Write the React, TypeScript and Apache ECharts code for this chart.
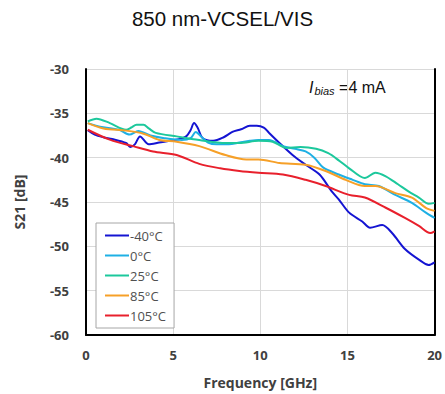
import React, { useEffect, useRef } from "react";
import * as echarts from "echarts";

const xTicks = [0, 5, 10, 15, 20];
const yTicks = [-30, -35, -40, -45, -50, -55, -60];

const seriesNames = ["-40°C", "0°C", "25°C", "85°C", "105°C"];
const seriesColors = ["#1414d2", "#1eb0e4", "#1cc89c", "#f6a028", "#e8202c"];

const xM40 = [0.1, 0.5, 1.0, 1.5, 2.3, 2.55, 2.8, 3.1, 3.6, 4.2, 4.8, 5.4, 5.75, 6.0, 6.2, 6.4, 6.7, 7.3, 7.9, 8.4, 8.9, 9.4, 9.8, 10.2, 10.5, 11.1, 11.85, 12.6, 13.4, 14.1, 14.5, 15.1, 15.85, 16.3, 17.0, 17.56, 18.3, 19.1, 19.66, 20];
const yM40 = [-36.9, -37.4, -37.7, -37.9, -38.35, -38.8, -38.5, -37.6, -38.5, -38.3, -38.1, -37.9, -37.6, -36.9, -36.1, -36.6, -37.8, -38.1, -37.7, -37.1, -36.8, -36.4, -36.4, -36.6, -37.2, -38.35, -39.7, -40.8, -41.9, -43.8, -44.7, -46.2, -47.2, -47.9, -47.6, -48.5, -50.3, -51.5, -52.1, -51.8];

const x0 = [0.1, 0.8, 1.9, 2.5, 3.0, 3.7, 4.5, 5.5, 6.0, 6.3, 6.6, 7.0, 7.5, 8.2, 8.8, 9.4, 9.9, 10.5, 11.3, 12.0, 12.6, 13.1, 13.6, 14.5, 15.3, 16.0, 16.8, 17.75, 18.7, 19.5, 20];
const y0 = [-36.1, -36.5, -36.85, -37.4, -37.0, -37.5, -37.8, -38.0, -37.8, -37.1, -37.6, -38.3, -38.5, -38.5, -38.3, -38.1, -38.0, -38.0, -38.7, -39.0, -39.3, -40.0, -41.1, -41.9, -42.5, -43.0, -43.2, -44.2, -45.1, -46.2, -46.8];

const x25 = [0.1, 0.6, 1.37, 2.3, 2.6, 2.9, 3.3, 3.6, 4.0, 5.2, 6.5, 8.0, 8.8, 9.9, 10.7, 11.5, 12.3, 13.2, 13.9, 14.5, 15.1, 16.0, 16.6, 17.2, 17.9, 18.5, 19.1, 19.66, 20];
const y25 = [-35.9, -35.6, -36.1, -36.85, -36.6, -36.3, -36.3, -36.7, -37.2, -37.6, -38.0, -38.35, -38.35, -38.1, -38.2, -38.9, -38.8, -39.0, -39.5, -40.3, -41.2, -42.3, -41.7, -42.1, -43.0, -43.8, -44.5, -45.2, -45.1];

const x85 = [0.1, 1.0, 2.3, 3.3, 4.2, 5.2, 6.5, 8.0, 9.2, 9.9, 11.1, 12.6, 13.75, 14.9, 16.0, 16.6, 17.75, 18.7, 19.5, 20];
const y85 = [-36.1, -36.7, -36.95, -37.3, -38.0, -38.2, -38.7, -39.7, -40.2, -40.2, -40.6, -40.8, -41.5, -42.5, -43.2, -43.2, -44.0, -44.5, -45.65, -46.0];

const x105 = [0.1, 1.4, 2.7, 3.85, 5.2, 6.5, 7.7, 8.8, 9.9, 11.3, 12.6, 13.75, 15.1, 16.0, 17.2, 18.3, 19.1, 19.75, 20];
const y105 = [-36.85, -38.0, -38.7, -39.3, -39.7, -40.7, -41.2, -41.5, -41.7, -41.9, -42.5, -43.2, -44.2, -44.5, -45.65, -46.8, -47.7, -48.5, -48.3];

const seriesX = [xM40, x0, x25, x85, x105];
const seriesY = [yM40, y0, y25, y85, y105];

export default function App() {
  const ref = useRef<HTMLDivElement>(null);
  useEffect(() => {
    if (!ref.current) return;
    const chart = echarts.init(ref.current, undefined, { renderer: "svg" });
    const labelFont = "'Open Sans', 'DejaVu Sans', sans-serif";
    chart.setOption({
      animation: false,
      backgroundColor: "#ffffff",
      title: {
        text: "850 nm-VCSEL/VIS",
        left: "center",
        top: 3,
        textStyle: { fontFamily: "'Liberation Sans', Arial, sans-serif", fontSize: 20.5, fontWeight: "normal", color: "#111" },
      },
      grid: { left: 86, right: 9, top: 69, bottom: 58 },
      xAxis: {
        type: "value",
        min: 0,
        max: 20,
        interval: 5,
        name: "Frequency [GHz]",
        nameLocation: "middle",
        nameGap: 40,
        nameTextStyle: { fontFamily: labelFont, fontWeight: "bold", fontSize: 14, color: "#404040" },
        axisLine: { show: true, lineStyle: { color: "#000", width: 2 } },
        axisTick: { show: false },
        axisLabel: { fontFamily: labelFont, fontWeight: "bold", fontSize: 13, color: "#404040", margin: 13 },
        splitLine: { show: true, lineStyle: { color: "#d9d9d9", width: 1 } },
      },
      yAxis: [
        {
          type: "value",
          min: -60,
          max: -30,
          interval: 5,
          name: "S21 [dB]",
          nameLocation: "middle",
          nameGap: 60,
          nameTextStyle: { fontFamily: labelFont, fontWeight: "bold", fontSize: 14, color: "#404040" },
          axisLine: { show: true, onZero: false, lineStyle: { color: "#000", width: 2 } },
          axisTick: { show: false },
          axisLabel: { fontFamily: labelFont, fontWeight: "bold", fontSize: 13, color: "#404040", margin: 17 },
          splitLine: { show: true, lineStyle: { color: "#d9d9d9", width: 1 } },
        },
        {
          type: "value",
          min: -60,
          max: -30,
          interval: 5,
          position: "right",
          axisLine: { show: true, onZero: false, lineStyle: { color: "#000", width: 2 } },
          axisTick: { show: false },
          axisLabel: { show: false },
          splitLine: { show: false },
        },
      ],
      legend: {
        orient: "vertical",
        left: 96,
        top: 223,
        width: 80,
        padding: [6, 8, 6, 9],
        itemGap: 7,
        itemWidth: 24,
        itemHeight: 14,
        backgroundColor: "#fff",
        borderColor: "#a6a6a6",
        borderWidth: 1,
        textStyle: { fontFamily: labelFont, fontSize: 13, fontWeight: 500, color: "#505050", padding: [0, 14, 0, -4] },
        data: seriesNames.map((n) => ({ name: n, icon: "path://M0,6 L24,6 L24,8 L0,8 Z" })),
      },
      graphic: [
        {
          type: "text",
          left: 309,
          top: 79,
          style: {
            text: "{i|I}{s|bias}{n| =4 mA}",
            rich: {
              i: { fontFamily: "'Liberation Sans', Arial, sans-serif", fontStyle: "italic", fontSize: 16, fill: "#111" },
              s: { fontFamily: "'Liberation Sans', Arial, sans-serif", fontStyle: "italic", fontSize: 11, fill: "#111", verticalAlign: "bottom", padding: [8, 0, 0, 1] },
              n: { fontFamily: "'Liberation Sans', Arial, sans-serif", fontSize: 16, fill: "#111" },
            },
          },
        },
      ],
      series: seriesNames.map((n, k) => ({
        name: n,
        type: "line",
        symbol: "none",
        smooth: 0.3,
        color: seriesColors[k],
        lineStyle: { color: seriesColors[k], width: 2 },
        data: seriesX[k].map((x, i) => [x, seriesY[k][i]]),
      })),
    });
    return () => chart.dispose();
  }, []);
  return <div ref={ref} style={{ width: 445, height: 394, position: "absolute", left: 0, top: 0 }} />;
}
